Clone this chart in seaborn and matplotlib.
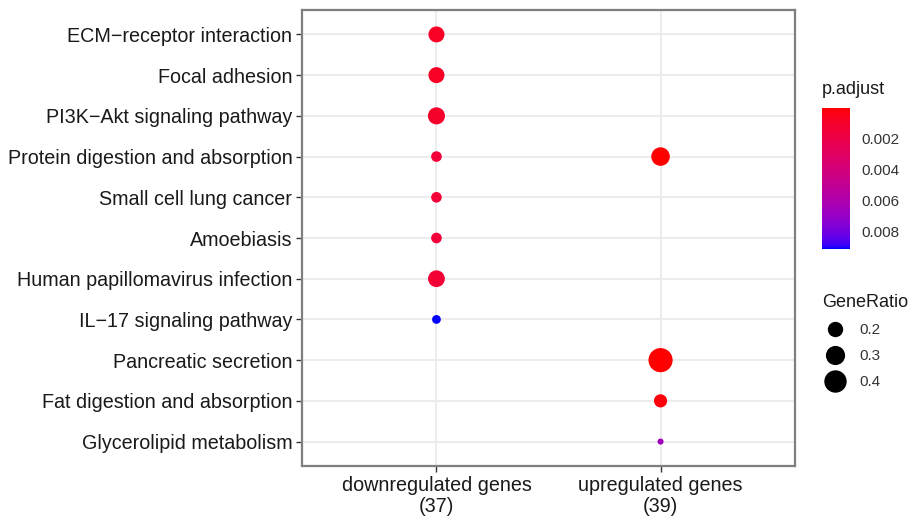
import numpy as np
import pandas as pd
import matplotlib
matplotlib.use("Agg")
import matplotlib.pyplot as plt
from matplotlib.colors import LinearSegmentedColormap, Normalize
from matplotlib.lines import Line2D
import seaborn as sns

# ---------------- data ----------------
pathways = [
    "ECM\u2212receptor interaction",
    "Focal adhesion",
    "PI3K\u2212Akt signaling pathway",
    "Protein digestion and absorption",
    "Small cell lung cancer",
    "Amoebiasis",
    "Human papillomavirus infection",
    "IL\u221217 signaling pathway",
    "Pancreatic secretion",
    "Fat digestion and absorption",
    "Glycerolipid metabolism",
]
groups = ["downregulated genes\n(37)", "upregulated genes\n(39)"]

point_pathway = [
    "ECM\u2212receptor interaction", "Focal adhesion", "PI3K\u2212Akt signaling pathway",
    "Protein digestion and absorption", "Small cell lung cancer", "Amoebiasis",
    "Human papillomavirus infection", "IL\u221217 signaling pathway",
    "Protein digestion and absorption", "Pancreatic secretion",
    "Fat digestion and absorption", "Glycerolipid metabolism",
]
point_group = [groups[0]] * 8 + [groups[1]] * 4
gene_ratio = [0.216, 0.216, 0.243, 0.108, 0.108, 0.108, 0.235, 0.081,
              0.282, 0.462, 0.154, 0.051]
p_adjust = [0.0008, 0.0008, 0.0010, 0.0014, 0.0014, 0.0014, 0.0013, 0.0091,
            0.00002, 0.00002, 0.0002, 0.0066]

cbar_ticks = [0.002, 0.004, 0.006, 0.008]
size_breaks = [0.2, 0.3, 0.4]

df = pd.DataFrame({"Description": point_pathway, "Cluster": point_group,
                   "GeneRatio": gene_ratio, "p.adjust": p_adjust})

# ---------------- colour map (Lab interpolation red -> blue, like ggplot) ----------------
def srgb_to_lab(rgb):
    rgb = np.asarray(rgb, float)
    lin = np.where(rgb <= 0.04045, rgb / 12.92, ((rgb + 0.055) / 1.055) ** 2.4)
    M = np.array([[0.4124564, 0.3575761, 0.1804375],
                  [0.2126729, 0.7151522, 0.0721750],
                  [0.0193339, 0.1191920, 0.9503041]])
    xyz = M @ lin
    wp = np.array([0.95047, 1.0, 1.08883])
    t = xyz / wp
    f = np.where(t > (6 / 29) ** 3, np.cbrt(t), t / (3 * (6 / 29) ** 2) + 4 / 29)
    return np.array([116 * f[1] - 16, 500 * (f[0] - f[1]), 200 * (f[1] - f[2])])

def lab_to_srgb(lab):
    L, a, b = lab
    fy = (L + 16) / 116
    fx = fy + a / 500
    fz = fy - b / 200
    f = np.array([fx, fy, fz])
    d = 6 / 29
    t = np.where(f > d, f ** 3, 3 * d ** 2 * (f - 4 / 29))
    wp = np.array([0.95047, 1.0, 1.08883])
    xyz = t * wp
    Minv = np.array([[3.2404542, -1.5371385, -0.4985314],
                     [-0.9692660, 1.8760108, 0.0415560],
                     [0.0556434, -0.2040259, 1.0572252]])
    lin = np.clip(Minv @ xyz, 0, 1)
    rgb = np.where(lin <= 0.0031308, 12.92 * lin, 1.055 * lin ** (1 / 2.4) - 0.055)
    return np.clip(rgb, 0, 1)

lab_lo = srgb_to_lab([1, 0, 0])
lab_hi = srgb_to_lab([0, 0, 1])
cols = [lab_to_srgb(lab_lo + (lab_hi - lab_lo) * k) for k in np.linspace(0, 1, 256)]
cmap = LinearSegmentedColormap.from_list("redblue", cols)

pmin, pmax = min(p_adjust), max(p_adjust)
norm = Normalize(vmin=pmin, vmax=pmax)

# size mapping (area linear in GeneRatio)
def area(v):
    return 690.0 * v - 16.0

gmin, gmax = min(gene_ratio), max(gene_ratio)

# ---------------- figure ----------------
sns.set_theme(style="white")
plt.rcParams["font.family"] = ["Liberation Sans", "DejaVu Sans"]

fig = plt.figure(figsize=(9.11, 5.17), dpi=100)
ax = fig.add_axes([302 / 911, 1 - 466 / 517, 493 / 911, 456 / 517])

df["Description"] = pd.Categorical(df["Description"], categories=pathways, ordered=True)
df["Cluster"] = pd.Categorical(df["Cluster"], categories=groups, ordered=True)
df["xpos"] = df["Cluster"].cat.codes
df["ypos"] = df["Description"].cat.codes

sns.scatterplot(data=df, x="xpos", y="ypos", hue="p.adjust", palette=cmap, hue_norm=norm,
                size="GeneRatio", sizes=(area(gmin), area(gmax)), size_norm=(gmin, gmax),
                linewidth=0, legend=False, ax=ax, zorder=3)

ax.set_xlim(-0.6, len(groups) - 1 + 0.6)
ax.set_ylim(len(pathways) - 1 + 0.6, -0.6)
ax.set_xticks(range(len(groups)))
ax.set_xticklabels(groups, fontsize=14.2, color="#1a1a1a", linespacing=1.15)
ax.set_yticks(range(len(pathways)))
ax.set_yticklabels(pathways, fontsize=14.2, color="#1a1a1a")
ax.set_xlabel("")
ax.set_ylabel("")
ax.grid(True, color="#ebebeb", linewidth=1.3, zorder=0)
ax.set_axisbelow(True)
ax.tick_params(axis="both", length=4, width=1, color="#333333", pad=3, direction="out",
               bottom=True, left=True)
for sp in ax.spines.values():
    sp.set_color("#7f7f7f")
    sp.set_linewidth(1.6)

# ---------------- colour bar ----------------
fig.text(822 / 911, 1 - 90 / 517, "p.adjust", fontsize=13, color="#1a1a1a",
         ha="left", va="center")
cax = fig.add_axes([822 / 911, 1 - 249 / 517, 28 / 911, 141 / 517])
sm = matplotlib.cm.ScalarMappable(norm=norm, cmap=cmap)
cb = fig.colorbar(sm, cax=cax, ticks=cbar_ticks)
cb.outline.set_visible(False)
cax.invert_yaxis()
cax.set_yticklabels([f"{t:.3f}" for t in cbar_ticks])
cax.tick_params(axis="y", direction="in", length=5, width=1, color=(1, 1, 1, 0.6),
                left=True, right=True, labelleft=False, labelright=True,
                labelsize=11, labelcolor="#333333", pad=8)

# ---------------- size legend ----------------
handles = [Line2D([], [], marker="o", linestyle="", color="black",
                  markersize=np.sqrt(area(v)), markeredgewidth=0) for v in size_breaks]
leg = fig.legend(handles, [str(v) for v in size_breaks], title="GeneRatio",
                 loc="upper left", bbox_to_anchor=(814 / 911, 1 - 286 / 517),
                 frameon=False, fontsize=11, title_fontsize=13,
                 labelspacing=0.8, handletextpad=0.7, borderpad=0, handlelength=1.8)
leg._legend_box.align = "left"
for t in leg.get_texts():
    t.set_color("#333333")
leg.get_title().set_color("#1a1a1a")

fig.savefig("out.png", dpi=100)
